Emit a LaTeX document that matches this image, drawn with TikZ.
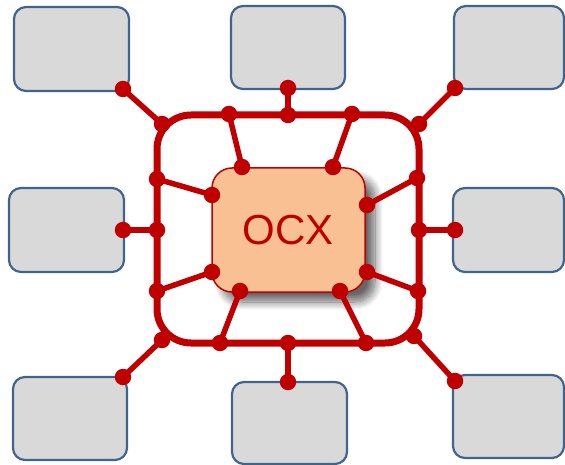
\documentclass[tikz,border=0pt]{standalone}
\usepackage{fontspec}
\setmainfont{Liberation Sans}
\usetikzlibrary{shadows.blur}
\definecolor{redO}{HTML}{C00000}
\definecolor{grayO}{HTML}{D9D9D9}
\definecolor{blueO}{HTML}{41648F}
\definecolor{peachO}{HTML}{F9C193}
\tikzset{
  gbox/.style={draw=blueO, line width=2.2pt, fill=grayO, rounded corners=12pt, inner sep=0pt},
  dotnode/.style={circle, fill=redO, inner sep=0pt, minimum size=16.5pt},
  conn/.style={draw=redO, line width=5.5pt},
  ring/.style={draw=redO, line width=7pt, rounded corners=34pt}
}
\begin{document}
\begin{tikzpicture}[x=1pt,y=-1pt]
\useasboundingbox (0,0) rectangle (565,465);
% gray boxes
\node[gbox, minimum width=115pt, minimum height=84pt] (b1) at (71.5,49) {};
\node[gbox, minimum width=114pt, minimum height=83pt] (b2) at (288,47.5) {};
\node[gbox, minimum width=110pt, minimum height=83pt] (b3) at (509,47.5) {};
\node[gbox, minimum width=115pt, minimum height=84pt] (b4) at (66.5,230) {};
\node[gbox, minimum width=111pt, minimum height=84pt] (b5) at (508.5,230) {};
\node[gbox, minimum width=114pt, minimum height=83pt] (b6) at (70,418.5) {};
\node[gbox, minimum width=115pt, minimum height=82pt] (b7) at (289.5,423) {};
\node[gbox, minimum width=111pt, minimum height=83pt] (b8) at (508.5,416.5) {};
% outer ring
\draw[ring] (157,115) rectangle (419,343);
% OCX box
\node[draw=redO, line width=1.5pt, fill=peachO, rounded corners=20pt,
      minimum width=153pt, minimum height=124pt, inner sep=0pt,
      blur shadow={shadow xshift=10pt, shadow yshift=-10pt, shadow blur steps=14, shadow blur radius=8pt, shadow opacity=60},
      text=redO, font=\fontsize{42pt}{42pt}\selectfont] (ocx) at (288.5,230) {OCX};
% coordinates: box attachment points
\coordinate (p1) at (123,89);
\coordinate (p2) at (288,88);
\coordinate (p3) at (455,88);
\coordinate (p4) at (123,230);
\coordinate (p5) at (455,230);
\coordinate (p6) at (123,377);
\coordinate (p7) at (288,382);
\coordinate (p8) at (455,381);
% ring points
\coordinate (r1) at (162,124);
\coordinate (r2) at (288,115);
\coordinate (r3) at (419,124);
\coordinate (r4) at (157,230);
\coordinate (r5) at (419,230);
\coordinate (r6) at (162,340);
\coordinate (r7) at (288,343);
\coordinate (r8) at (414,336);
\coordinate (ra) at (229,114);
\coordinate (rb) at (352,114);
\coordinate (rc) at (157,179);
\coordinate (rd) at (417,178);
\coordinate (re) at (157,291);
\coordinate (rf) at (418,291);
\coordinate (rg) at (220,343);
\coordinate (rh) at (366,343);
% OCX points
\coordinate (oa) at (242,167);
\coordinate (ob) at (333,167);
\coordinate (oc) at (212,195);
\coordinate (od) at (367,205);
\coordinate (oe) at (212,272);
\coordinate (of) at (367,272);
\coordinate (og) at (240,291);
\coordinate (oh) at (340,291);
% connectors
\foreach \i in {1,...,8} { \draw[conn] (p\i) -- (r\i); }
\foreach \a/\b in {ra/oa, rb/ob, rc/oc, rd/od, re/oe, rf/of, rg/og, rh/oh} { \draw[conn] (\a) -- (\b); }
% dots
\foreach \n in {p1,p2,p3,p4,p5,p6,p7,p8,r1,r2,r3,r4,r5,r6,r7,r8,ra,rb,rc,rd,re,rf,rg,rh,oa,ob,oc,od,oe,of,og,oh}
  { \node[dotnode] (d\n) at (\n) {}; }
\end{tikzpicture}
\end{document}
